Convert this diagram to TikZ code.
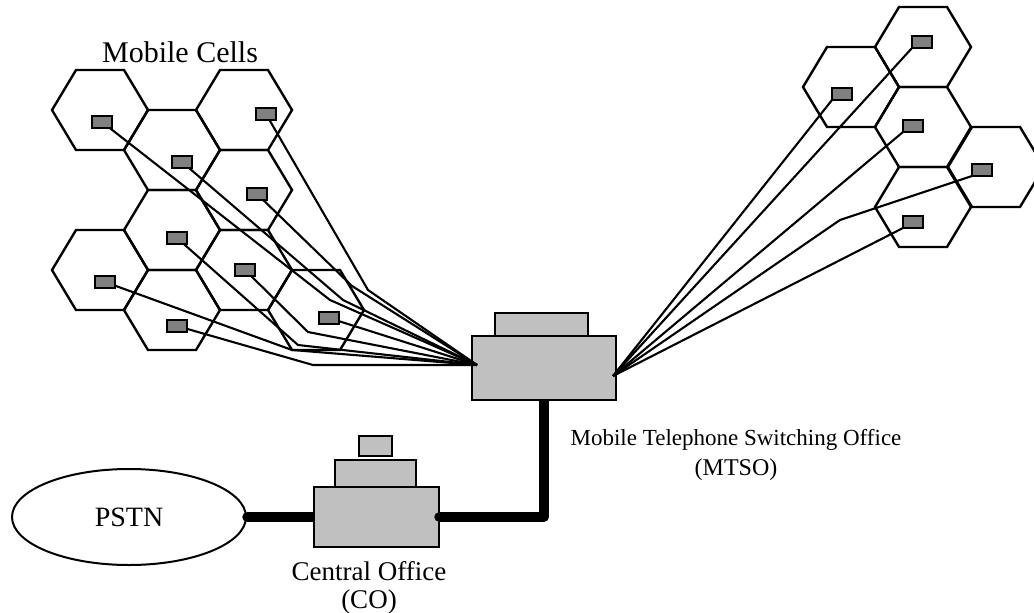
\documentclass[tikz,border=0pt]{standalone}
\usepackage{fontspec}
\setmainfont{Liberation Serif}
\usetikzlibrary{shapes.geometric}
\definecolor{boxgray}{HTML}{C0C0C0}
\definecolor{antgray}{HTML}{808080}
\begin{document}
\begin{tikzpicture}[x=1pt,y=-1pt,
  hexcell/.style={draw, line width=2.4pt, line join=miter},
  antenna/.style={draw=black, fill=antgray, line width=2pt, minimum width=20pt, minimum height=12pt, inner sep=0pt, outer sep=0pt},
  link/.style={line width=2.1pt, line join=miter},
  office/.style={draw=black, fill=boxgray, line width=2.2pt, inner sep=0pt, outer sep=0pt},
  trunk/.style={line width=9.5pt, line cap=butt, line join=round},
  trunkend/.style={fill=black, circle, inner sep=0pt, minimum size=9.5pt},
  lbl/.style={inner sep=0pt, anchor=base}]
\useasboundingbox (0,0) rectangle (1034,613);
% hexagonal cells
\foreach \cx/\cy in {100/110,172/150,244/110,244/190,172/230,100/270,172/310,244/270,316/310,
                     923/47,851/87,923/127,996/167,923/207}
  \draw[hexcell] ({\cx-48},\cy) -- ({\cx-24},{\cy-40}) -- ({\cx+24},{\cy-40}) -- ({\cx+48},\cy)
                 -- ({\cx+24},{\cy+40}) -- ({\cx-24},{\cy+40}) -- cycle;
% offices
\node[office, minimum width=93pt, minimum height=23pt] (mtsotop) at (541.5,324.5) {};
\node[office, minimum width=144pt, minimum height=64pt] (mtso) at (544,368) {};
\node[office, minimum width=33pt, minimum height=20pt] (cotop) at (375.5,446) {};
\node[office, minimum width=81pt, minimum height=28pt] (comid) at (375.5,474) {};
\node[office, minimum width=125pt, minimum height=60pt] (co) at (376.5,517) {};
\node[draw, ellipse, line width=2pt, minimum width=234pt, minimum height=96pt, inner sep=0pt,
      font=\fontsize{28}{30}\selectfont] (pstn) at (129,517) {PSTN};
% antennas
\node[antenna] (s1) at (102,122) {};
\node[antenna] (s2) at (182,162) {};
\node[antenna] (s3) at (266,114) {};
\node[antenna] (s4) at (257,194) {};
\node[antenna] (s5) at (177,238) {};
\node[antenna] (s6) at (105,282) {};
\node[antenna] (s7) at (177,326) {};
\node[antenna] (s8) at (245,270) {};
\node[antenna] (s9) at (329,318) {};
\node[antenna] (r1) at (922,42) {};
\node[antenna] (r2) at (842,94) {};
\node[antenna] (r3) at (913,126) {};
\node[antenna] (r4) at (982,170) {};
\node[antenna] (r5) at (913,222) {};
% connector bend and end points
\coordinate (mL) at (477,365);
\coordinate (mR) at (613,376);
\coordinate (b1) at (330,300);
\coordinate (b2) at (343,300);
\coordinate (b3) at (368,290);
\coordinate (b4) at (352,286);
\coordinate (b5) at (298,345);
\coordinate (b6) at (292,350);
\coordinate (b7) at (313,365);
\coordinate (b8) at (308,332);
\coordinate (b10) at (840,220);
% connectors, left group
\draw[link] (s1) -- (b1) -- (mL);
\draw[link] (s2) -- (b2) -- (mL);
\draw[link] (s3) -- (b3) -- (mL);
\draw[link] (s4) -- (b4) -- (mL);
\draw[link] (s5) -- (b5) -- (mL);
\draw[link] (s6) -- (b6) -- (mL);
\draw[link] (s7) -- (b7) -- (mL);
\draw[link] (s8) -- (b8) -- (mL);
\draw[link] (s9) -- (mL);
% connectors, right group
\draw[link] (r1.south west) -- (mR);
\draw[link] (r2.south west) -- (mR);
\draw[link] (r3.south west) -- (mR);
\draw[link] (r4.south west) -- (b10) -- (mR);
\draw[link] (r5.south west) -- (mR);
% trunks
\draw[trunk] (mtso.south) |- (co.east);
\draw[trunk] (pstn.east) -- (co.west);
\node[trunkend] (d1) at (co.east) {};
\node[trunkend] (d2) at (pstn.east) {};
% labels
\node[lbl, font=\fontsize{30}{32}\selectfont] (cells) at (180,62) {Mobile Cells};
\node[lbl, font=\fontsize{23}{26}\selectfont] (mtsolbl) at (736,445) {Mobile Telephone Switching Office};
\node[lbl, font=\fontsize{24}{26}\selectfont] (mtsoab) at (736,475) {(MTSO)};
\node[lbl, font=\fontsize{27}{30}\selectfont] (colbl) at (369,580) {Central Office};
\node[lbl, font=\fontsize{27}{30}\selectfont] (coab) at (369,608) {(CO)};
\end{tikzpicture}
\end{document}
